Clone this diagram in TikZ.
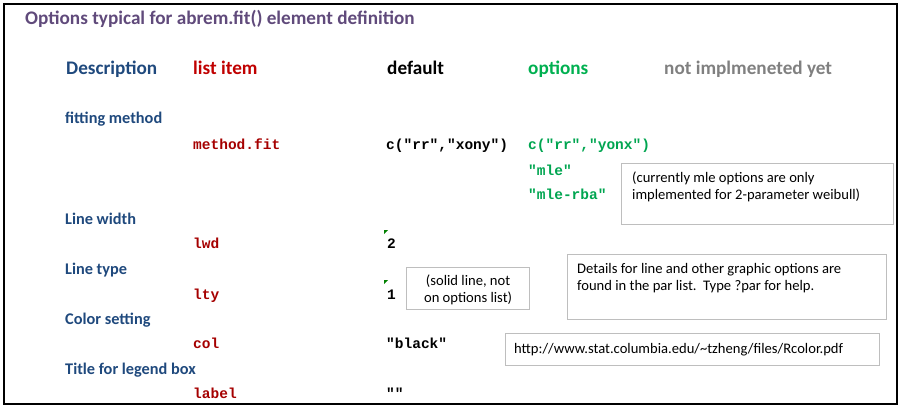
\documentclass[tikz,border=0pt]{standalone}
\usepackage{fontspec}
\setmainfont{Carlito}
\setmonofont{Liberation Mono}
\usetikzlibrary{positioning}
\definecolor{titlePurple}{RGB}{96,74,123}
\definecolor{descBlue}{RGB}{31,73,125}
\definecolor{itemRed}{RGB}{192,0,0}
\definecolor{codeRed}{RGB}{165,0,0}
\definecolor{optGreen}{RGB}{0,176,80}
\definecolor{codeGreen}{RGB}{0,165,80}
\definecolor{flagGreen}{RGB}{0,128,0}
\definecolor{noteGray}{RGB}{190,190,190}
\definecolor{todoGray}{RGB}{128,128,128}
\tikzset{
	head/.style={anchor=base west, inner sep=0, font=\fontsize{19.2}{22}\selectfont\bfseries},
	desc/.style={anchor=base west, inner sep=0, text=descBlue, font=\fontsize{16.3}{19}\selectfont\bfseries},
	code/.style={anchor=base west, inner sep=0, font=\fontsize{14.5}{17}\selectfont\ttfamily\bfseries},
	note/.style={draw=noteGray, line width=1.2pt, anchor=north west, inner sep=0},
	notetext/.style={inner sep=0, align=left, font=\fontsize{14.6}{16.8}\selectfont}
}
\newcommand{\drawFlag}[1]{
	\fill[flagGreen] (#1) -- ++(4,0) -- ++(-4,4) -- cycle;
}

\begin{document}
\begin{tikzpicture}[x=1pt,y=-1pt]
		\useasboundingbox (0,0) rectangle (902,410);
		\draw[line width=2.6pt] (4,4) rectangle (897,404);

		% title and column heads
		\node[head, text=titlePurple] (title) at (25,24) {Options typical for abrem.fit() element definition};
		\node[head, text=descBlue] (hDesc) at (66,74) {Description};
		\node[head, text=itemRed] (hItem) at (193,74) {list item};
		\node[head] (hDef) at (387,74) {default};
		\node[head, text=optGreen] (hOpt) at (528,74) {options};
		\node[head, text=todoGray] (hTodo) at (664,74) {not implmeneted yet};

		% rows
		\node[desc] (descFit) at (65,123) {fitting method};
		\node[code, text=codeRed] (itemFit) at (193,149) {method.fit};
		\node[code] (defFit) at (386,149) {c("rr","xony")};
		\node[code, text=codeGreen] (optFit) at (528,149) {c("rr","yonx")};
		\node[code, text=codeGreen] (optMle) at (528,175) {"mle"};
		\node[code, text=codeGreen] (optMleRba) at (528,199) {"mle-rba"};

		\node[desc] (descLwd) at (65,224) {Line width};
		\node[code, text=codeRed] (itemLwd) at (193,248.5) {lwd};
		\node[code] (defLwd) at (387,248.5) {2};
		\drawFlag{384,230}

		\node[desc] (descLty) at (65,274) {Line type};
		\node[code, text=codeRed] (itemLty) at (193,299) {lty};
		\node[code] (defLty) at (387,299) {1};
		\drawFlag{384,280}

		\node[desc] (descCol) at (65,324) {Color setting};
		\node[code, text=codeRed] (itemCol) at (193,348.5) {col};
		\node[code] (defCol) at (386,348.5) {"black"};

		\node[desc] (descLabel) at (65,374) {Title for legend box};
		\node[code, text=codeRed] (itemLabel) at (193,398.5) {label};
		\node[code] (defLabel) at (386,398.5) {""};

		% comment boxes
		\node[note, minimum width=272, minimum height=61] (mleBox) at (621,163) {};
		\node[notetext, below right=9pt and 11pt of mleBox.north west] (mleText) {(currently mle options are only\\implemented for 2-parameter weibull)};

		\node[note, minimum width=123, minimum height=42] (ltyBox) at (406,267) {};
		\node[notetext, align=center, below=8pt of ltyBox.north] (ltyText) {(solid line, not\\on options list)};

		\node[note, minimum width=319, minimum height=65] (parBox) at (567,254) {};
		\node[notetext, below right=9pt and 10pt of parBox.north west] (parText) {Details for line and other graphic options are\\found in the par list.\ \ Type ?par for help.};

		\node[note, minimum width=374, minimum height=32] (urlBox) at (505,333) {};
		\node[notetext, anchor=west] (urlText) at ([xshift=9pt]urlBox.west) {http://www.stat.columbia.edu/\textasciitilde tzheng/files/Rcolor.pdf};

	\end{tikzpicture}
\end{document}
